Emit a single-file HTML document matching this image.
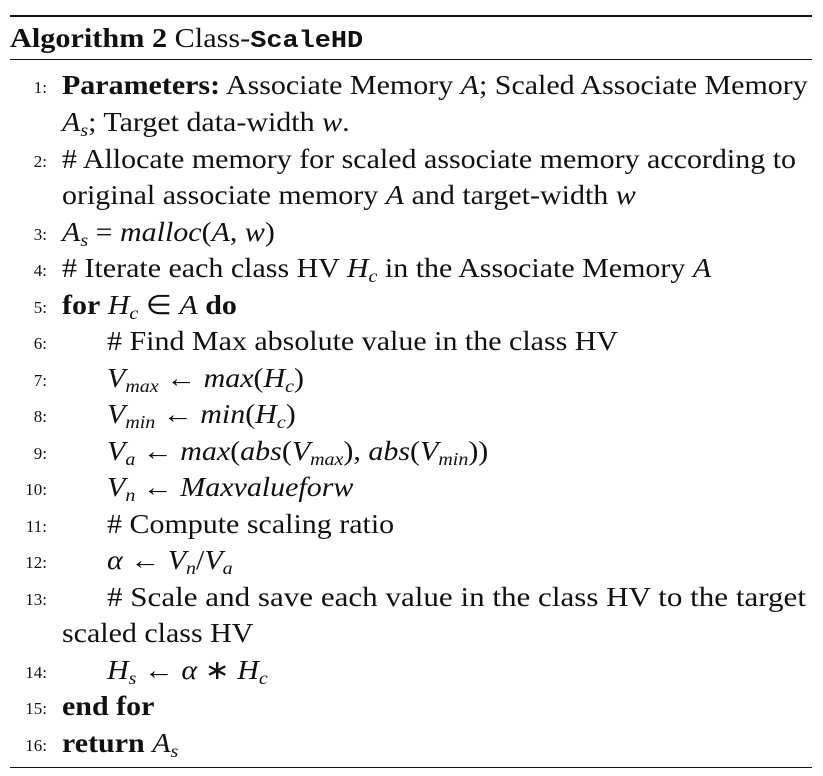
<!DOCTYPE html>
<html><head><meta charset="utf-8"><style>
body{margin:0;background:#fff;width:823px;height:776px;position:relative;overflow:hidden;font-family:"Liberation Serif",serif;color:#111}
.r{position:absolute;left:0;width:823px;height:36px;line-height:36px;font-size:27px;white-space:nowrap}
.n{position:absolute;right:776px;top:3px;font-size:17px}
.t{position:absolute;left:62px;transform:scaleX(1.11);transform-origin:left center}
.i{left:107px}
.rule{position:absolute;left:10px;width:802px;background:#111}
i{font-style:italic}
b{font-weight:bold}
sub{font-size:18px;font-style:italic;vertical-align:-5px;line-height:0}
.m{font-family:"Liberation Mono",monospace;font-weight:bold;font-size:24px}
</style></head><body>
<div class="rule" style="top:15px;height:2px"></div>
<div class="r" style="top:20px"><span class="t" style="left:10px;transform:scaleX(1.12)"><b>Algorithm 2</b> Class-<span class="m">ScaleHD</span></span></div>
<div class="rule" style="top:59px;height:1px"></div>

<div class="r" style="top:67px"><span class="n">1:</span><span class="t"><b>Parameters:</b> Associate Memory <i>A</i>; Scaled Associate Memory</span></div>
<div class="r" style="top:104px"><span class="t"><i>A</i><sub>s</sub>; Target data-width <i>w</i>.</span></div>
<div class="r" style="top:141px"><span class="n">2:</span><span class="t"># Allocate memory for scaled associate memory according to</span></div>
<div class="r" style="top:177px"><span class="t">original associate memory <i>A</i> and target-width <i>w</i></span></div>
<div class="r" style="top:214px"><span class="n">3:</span><span class="t"><i>A</i><sub>s</sub> = <i>malloc</i>(<i>A</i>, <i>w</i>)</span></div>
<div class="r" style="top:250px"><span class="n">4:</span><span class="t"># Iterate each class HV <i>H</i><sub>c</sub> in the Associate Memory <i>A</i></span></div>
<div class="r" style="top:287px"><span class="n">5:</span><span class="t"><b>for</b> <i>H</i><sub>c</sub> ∈ <i>A</i> <b>do</b></span></div>
<div class="r" style="top:323px"><span class="n">6:</span><span class="t i"># Find Max absolute value in the class HV</span></div>
<div class="r" style="top:360px"><span class="n">7:</span><span class="t i"><i>V</i><sub>max</sub> ← <i>max</i>(<i>H</i><sub>c</sub>)</span></div>
<div class="r" style="top:396px"><span class="n">8:</span><span class="t i"><i>V</i><sub>min</sub> ← <i>min</i>(<i>H</i><sub>c</sub>)</span></div>
<div class="r" style="top:433px"><span class="n">9:</span><span class="t i"><i>V</i><sub>a</sub> ← <i>max</i>(<i>abs</i>(<i>V</i><sub>max</sub>), <i>abs</i>(<i>V</i><sub>min</sub>))</span></div>
<div class="r" style="top:469px"><span class="n">10:</span><span class="t i"><i>V</i><sub>n</sub> ← <i>Maxvalueforw</i></span></div>
<div class="r" style="top:506px"><span class="n">11:</span><span class="t i"># Compute scaling ratio</span></div>
<div class="r" style="top:542px"><span class="n">12:</span><span class="t i"><i>α</i> ← <i>V</i><sub>n</sub>/<i>V</i><sub>a</sub></span></div>
<div class="r" style="top:579px"><span class="n">13:</span><span class="t i" style="transform:scaleX(1.15)"># Scale and save each value in the class HV to the target</span></div>
<div class="r" style="top:615px"><span class="t">scaled class HV</span></div>
<div class="r" style="top:652px"><span class="n">14:</span><span class="t i"><i>H</i><sub>s</sub> ← <i>α</i> ∗ <i>H</i><sub>c</sub></span></div>
<div class="r" style="top:688px"><span class="n">15:</span><span class="t"><b>end for</b></span></div>
<div class="r" style="top:725px"><span class="n">16:</span><span class="t"><b>return</b> <i>A</i><sub>s</sub></span></div>
<div class="rule" style="top:767px;height:1px"></div>
</body></html>
